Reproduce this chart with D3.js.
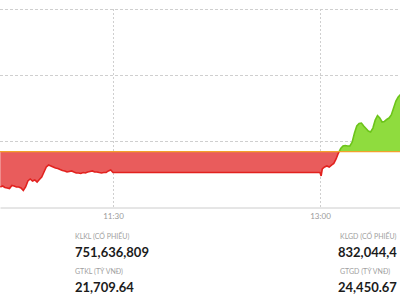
<!DOCTYPE html>
<html>
<head>
<meta charset="utf-8">
<script src="https://cdn.jsdelivr.net/npm/d3@7"></script>
<style>
  html, body { margin: 0; padding: 0; background: #fff; overflow: hidden; }
  svg { display: block; font-family: Lato, "Open Sans", sans-serif; }
</style>
</head>
<body>
<div id="chart"></div>
<script>
// index values, one per minute (plus 13:00:30)
const times = [
  "10:41", "10:42", "10:43", "10:44", "10:45", "10:46", "10:47", "10:48", "10:49", "10:50",
  "10:51", "10:52", "10:53", "10:54", "10:55", "10:56", "10:57", "10:58", "10:59", "11:00",
  "11:01", "11:02", "11:03", "11:04", "11:05", "11:06", "11:07", "11:08", "11:09", "11:10",
  "11:11", "11:12", "11:13", "11:14", "11:15", "11:16", "11:17", "11:18", "11:19", "11:20",
  "11:21", "11:22", "11:23", "11:24", "11:25", "11:26", "11:27", "11:28", "11:29", "11:30",
  "13:00", "13:00:30", "13:01", "13:02", "13:03", "13:04", "13:05", "13:06", "13:07", "13:08",
  "13:09", "13:10", "13:11", "13:12", "13:13", "13:14", "13:15", "13:16", "13:17", "13:18",
  "13:19", "13:20", "13:21", "13:22", "13:23", "13:24", "13:25", "13:26", "13:27", "13:28",
  "13:29", "13:30", "13:31", "13:32", "13:33", "13:34", "13:35"
];
const values = [
  1471.52, 1471.59, 1471.48, 1471.44, 1471.40, 1471.63, 1471.59, 1471.52, 1471.52, 1471.44,
  1471.25, 1471.52, 1471.97, 1472.12, 1471.97, 1472.05, 1471.89, 1472.08, 1472.27, 1472.65,
  1473.03, 1473.18, 1473.11, 1473.03, 1472.95, 1472.92, 1472.84, 1472.77, 1472.73, 1472.65,
  1472.69, 1472.73, 1472.65, 1472.58, 1472.58, 1472.54, 1472.61, 1472.58, 1472.65, 1472.69,
  1472.73, 1472.65, 1472.65, 1472.61, 1472.58, 1472.61, 1472.61, 1472.73, 1472.80, 1472.61,
  1472.61, 1472.35, 1472.88, 1473.03, 1473.11, 1473.03, 1473.18, 1473.30, 1473.64, 1474.09,
  1474.43, 1474.62, 1474.66, 1474.62, 1474.62, 1474.92, 1475.61, 1476.14, 1476.33, 1476.36,
  1476.14, 1475.95, 1475.76, 1475.68, 1475.98, 1476.59, 1476.93, 1476.74, 1476.44, 1476.48,
  1476.63, 1476.74, 1476.97, 1477.50, 1478.03, 1478.33, 1478.52
];
const refValue = 1474.2;
const gridValues = [1475, 1480, 1485];
const tickTimes = ["11:30", "13:00"];
const statLabels = ["KLKL (CỔ PHIẾU)", "GTKL (TỶ VNĐ)", "KLGD (CỔ PHIẾU)", "GTGD (TỶ VNĐ)"];
const statValues = ["751,636,809", "21,709.64", "832,044,4", "24,450.67"];

function toMin(s) {
    let p = s.split(':').map(Number);
    return p[0] * 60 + p[1] + (p[2] || 0) / 60;
}

let width = 400;
let height = 300;
let data = times.map((t, i) => ({ t: toMin(t), v: values[i] }));

let x = d3.scaleLinear()
    .domain([toMin("10:40:52"), toMin("13:34:47")])
    .range([0, width]);
let y = d3.scaleLinear()
    .domain([1470, 1485])
    .range([207, 9]);

let svg = d3.select('#chart')
    .append('svg')
    .attr('width', width)
    .attr('height', height);

// grid behind everything
svg.append('g').selectAll('line')
    .data(gridValues)
    .enter().append('line')
    .attr('x1', 0).attr('x2', width)
    .attr('y1', d => y(d) + 0.5).attr('y2', d => y(d) + 0.5)
    .attr('stroke', '#cfcfcf')
    .attr('stroke-dasharray', '3,2');

svg.append('g').selectAll('line')
    .data(tickTimes)
    .enter().append('line')
    .attr('x1', d => Math.round(x(toMin(d))) + 0.5).attr('x2', d => Math.round(x(toMin(d))) + 0.5)
    .attr('y1', y(1485)).attr('y2', y(1470))
    .attr('stroke', '#cfcfcf')
    .attr('stroke-dasharray', '2,2');

let axis = d3.axisBottom(x)
    .tickValues(tickTimes.map(toMin))
    .tickFormat((d, i) => tickTimes[i])
    .tickSize(0)
    .tickPadding(6);
let gx = svg.append('g')
    .attr('transform', 'translate(0,' + (y(1470) + 0.5) + ')')
    .call(axis);
gx.select('.domain').attr('stroke', '#cccccc');
gx.selectAll('text')
    .attr('fill', '#9a9a9a')
    .style('font-size', '8px')
    .style('font-family', 'Lato, sans-serif');

// split fills at the reference price
let yRef = y(refValue);
let defs = svg.append('defs');
defs.append('clipPath').attr('id', 'clip-up')
    .append('rect').attr('x', 0).attr('y', 0).attr('width', width).attr('height', yRef);
defs.append('clipPath').attr('id', 'clip-down')
    .append('rect').attr('x', 0).attr('y', yRef).attr('width', width).attr('height', height - yRef);

let area = d3.area()
    .x(d => x(d.t))
    .y0(yRef)
    .y1(d => y(d.v));
let line = d3.line()
    .x(d => x(d.t))
    .y(d => y(d.v));

svg.append('path').datum(data)
    .attr('d', area)
    .attr('fill', '#e95c5c')
    .attr('clip-path', 'url(#clip-down)');
svg.append('path').datum(data)
    .attr('d', area)
    .attr('fill', '#8fdc3e')
    .attr('clip-path', 'url(#clip-up)');
svg.append('path').datum(data)
    .attr('d', line)
    .attr('fill', 'none')
    .attr('stroke', '#e2221f')
    .attr('stroke-width', 1.6)
    .attr('clip-path', 'url(#clip-down)');
svg.append('path').datum(data)
    .attr('d', line)
    .attr('fill', 'none')
    .attr('stroke', '#6cc41a')
    .attr('stroke-width', 1.6)
    .attr('clip-path', 'url(#clip-up)');

svg.append('line')
    .attr('x1', 0).attr('x2', width)
    .attr('y1', yRef).attr('y2', yRef)
    .attr('stroke', '#f2a22c')
    .attr('stroke-width', 1.2);

// trading stats under the chart
let cols = [75, 75, 340, 340];
let rows = [0, 1, 0, 1];
let stats = svg.append('g');
stats.selectAll('text.label')
    .data(statLabels)
    .enter().append('text')
    .attr('class', 'label')
    .attr('x', (d, i) => cols[i])
    .attr('y', (d, i) => 238.5 + rows[i] * 35)
    .attr('fill', '#a0a0a0')
    .style('font-size', '7px')
    .text(d => d);
stats.selectAll('text.value')
    .data(statValues)
    .enter().append('text')
    .attr('class', 'value')
    .attr('x', (d, i) => cols[i] - (i > 1 ? 2 : 0))
    .attr('y', (d, i) => 256.5 + rows[i] * 35)
    .attr('fill', '#1b1b1b')
    .style('font-size', '13px')
    .style('font-weight', 'bold')
    .text(d => d);
</script>
</body>
</html>
